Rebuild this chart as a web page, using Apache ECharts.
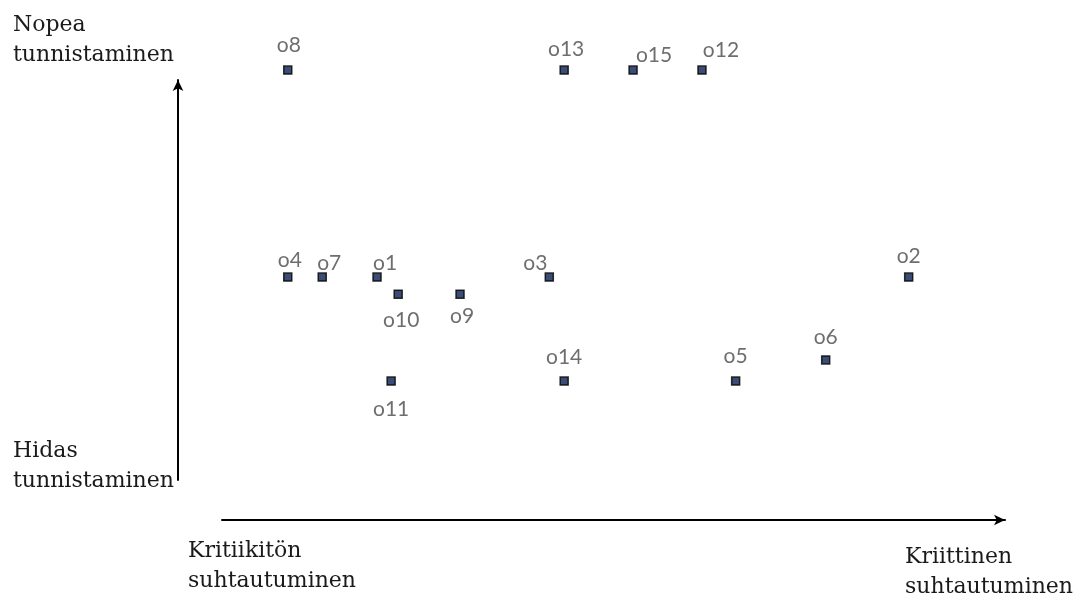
<!DOCTYPE html>
<html>
<head>
<meta charset="utf-8">
<script src="https://cdn.jsdelivr.net/npm/echarts@6/dist/echarts.min.js"></script>
<style>
html,body{margin:0;padding:0;background:#fff;}
#chart{width:1078px;height:596px;}
</style>
</head>
<body>
<div id="chart"></div>
<script>
// Data (x: criticality 0-10, y: speed of recognition 0-10)
const names = ['o1','o2','o3','o4','o5','o6','o7','o8','o9','o10','o11','o12','o13','o14','o15'];
const xValues = [1.98, 8.77, 4.18, 0.84, 6.56, 7.71, 1.28, 0.84, 3.04, 2.25, 2.16, 6.13, 4.37, 4.37, 5.25];
const yValues = [5.28, 5.28, 5.28, 5.28, 3.02, 3.48, 5.28, 9.78, 4.91, 4.91, 3.02, 9.78, 9.78, 3.02, 9.78];
const yTopLabel = 'Nopea\ntunnistaminen';
const yBottomLabel = 'Hidas\ntunnistaminen';
const xLeftLabel = 'Kritiikitön\nsuhtautuminen';
const xRightLabel = 'Kriittinen\nsuhtautuminen';

// Label placement (layout, not data): offset from marker centre
const labelShift = {
  o1:[8,-14], o2:[0,-21], o3:[-14,-14], o4:[2,-17], o5:[0,-25], o6:[0,-23],
  o7:[7,-14], o8:[1,-25], o9:[2,22], o10:[3,26], o11:[0,28], o12:[19,-20],
  o13:[2,-21], o14:[0,-24], o15:[21,-15]
};

const points = names.map((n,i)=>({
  name:n, value:[xValues[i], yValues[i]],
  label:{offset:labelShift[n]}
}));

const serif = 'DejaVu Serif';
const chart = echarts.init(document.getElementById('chart'));
const axisTextStyle = {font: '22px "' + serif + '"', fill:'#1a1a1a', lineHeight:30};
chart.setOption({
  animation:false,
  backgroundColor:'#fff',
  grid:[
    {left:222, top:60, width:783, height:460},
    {left:178, top:80, width:100, height:400}
  ],
  xAxis:[
    {gridIndex:0, type:'value', min:0, max:10,
     axisLine:{show:true, onZero:false, symbol:['none','arrow'], symbolSize:[8,11], lineStyle:{color:'#000', width:2}},
     axisTick:{show:false}, axisLabel:{show:false}, splitLine:{show:false}},
    {gridIndex:1, type:'value', show:false}
  ],
  yAxis:[
    {gridIndex:0, type:'value', min:0, max:10, show:false},
    {gridIndex:1, type:'value', min:0, max:10,
     axisLine:{show:true, onZero:false, symbol:['none','arrow'], symbolSize:[8,11], lineStyle:{color:'#000', width:2}},
     axisTick:{show:false}, axisLabel:{show:false}, splitLine:{show:false}}
  ],
  series:[{
    type:'scatter', xAxisIndex:0, yAxisIndex:0,
    symbol:'rect', symbolSize:8,
    itemStyle:{color:'#0a2152', borderColor:'#000', borderWidth:1.5},
    label:{show:true, position:'inside', formatter:'{b}', fontFamily:'Lato', fontSize:21, color:'#4a4a4a', align:'center', verticalAlign:'middle'},
    data:points
  }],
  graphic:[
    {type:'text', left:13, top:10, style:Object.assign({text:yTopLabel}, axisTextStyle)},
    {type:'text', left:13, top:436, style:Object.assign({text:yBottomLabel}, axisTextStyle)},
    {type:'text', left:188, top:536, style:Object.assign({text:xLeftLabel}, axisTextStyle)},
    {type:'text', left:905, top:542, style:Object.assign({text:xRightLabel}, axisTextStyle)}
  ]
});
</script>
</body>
</html>
